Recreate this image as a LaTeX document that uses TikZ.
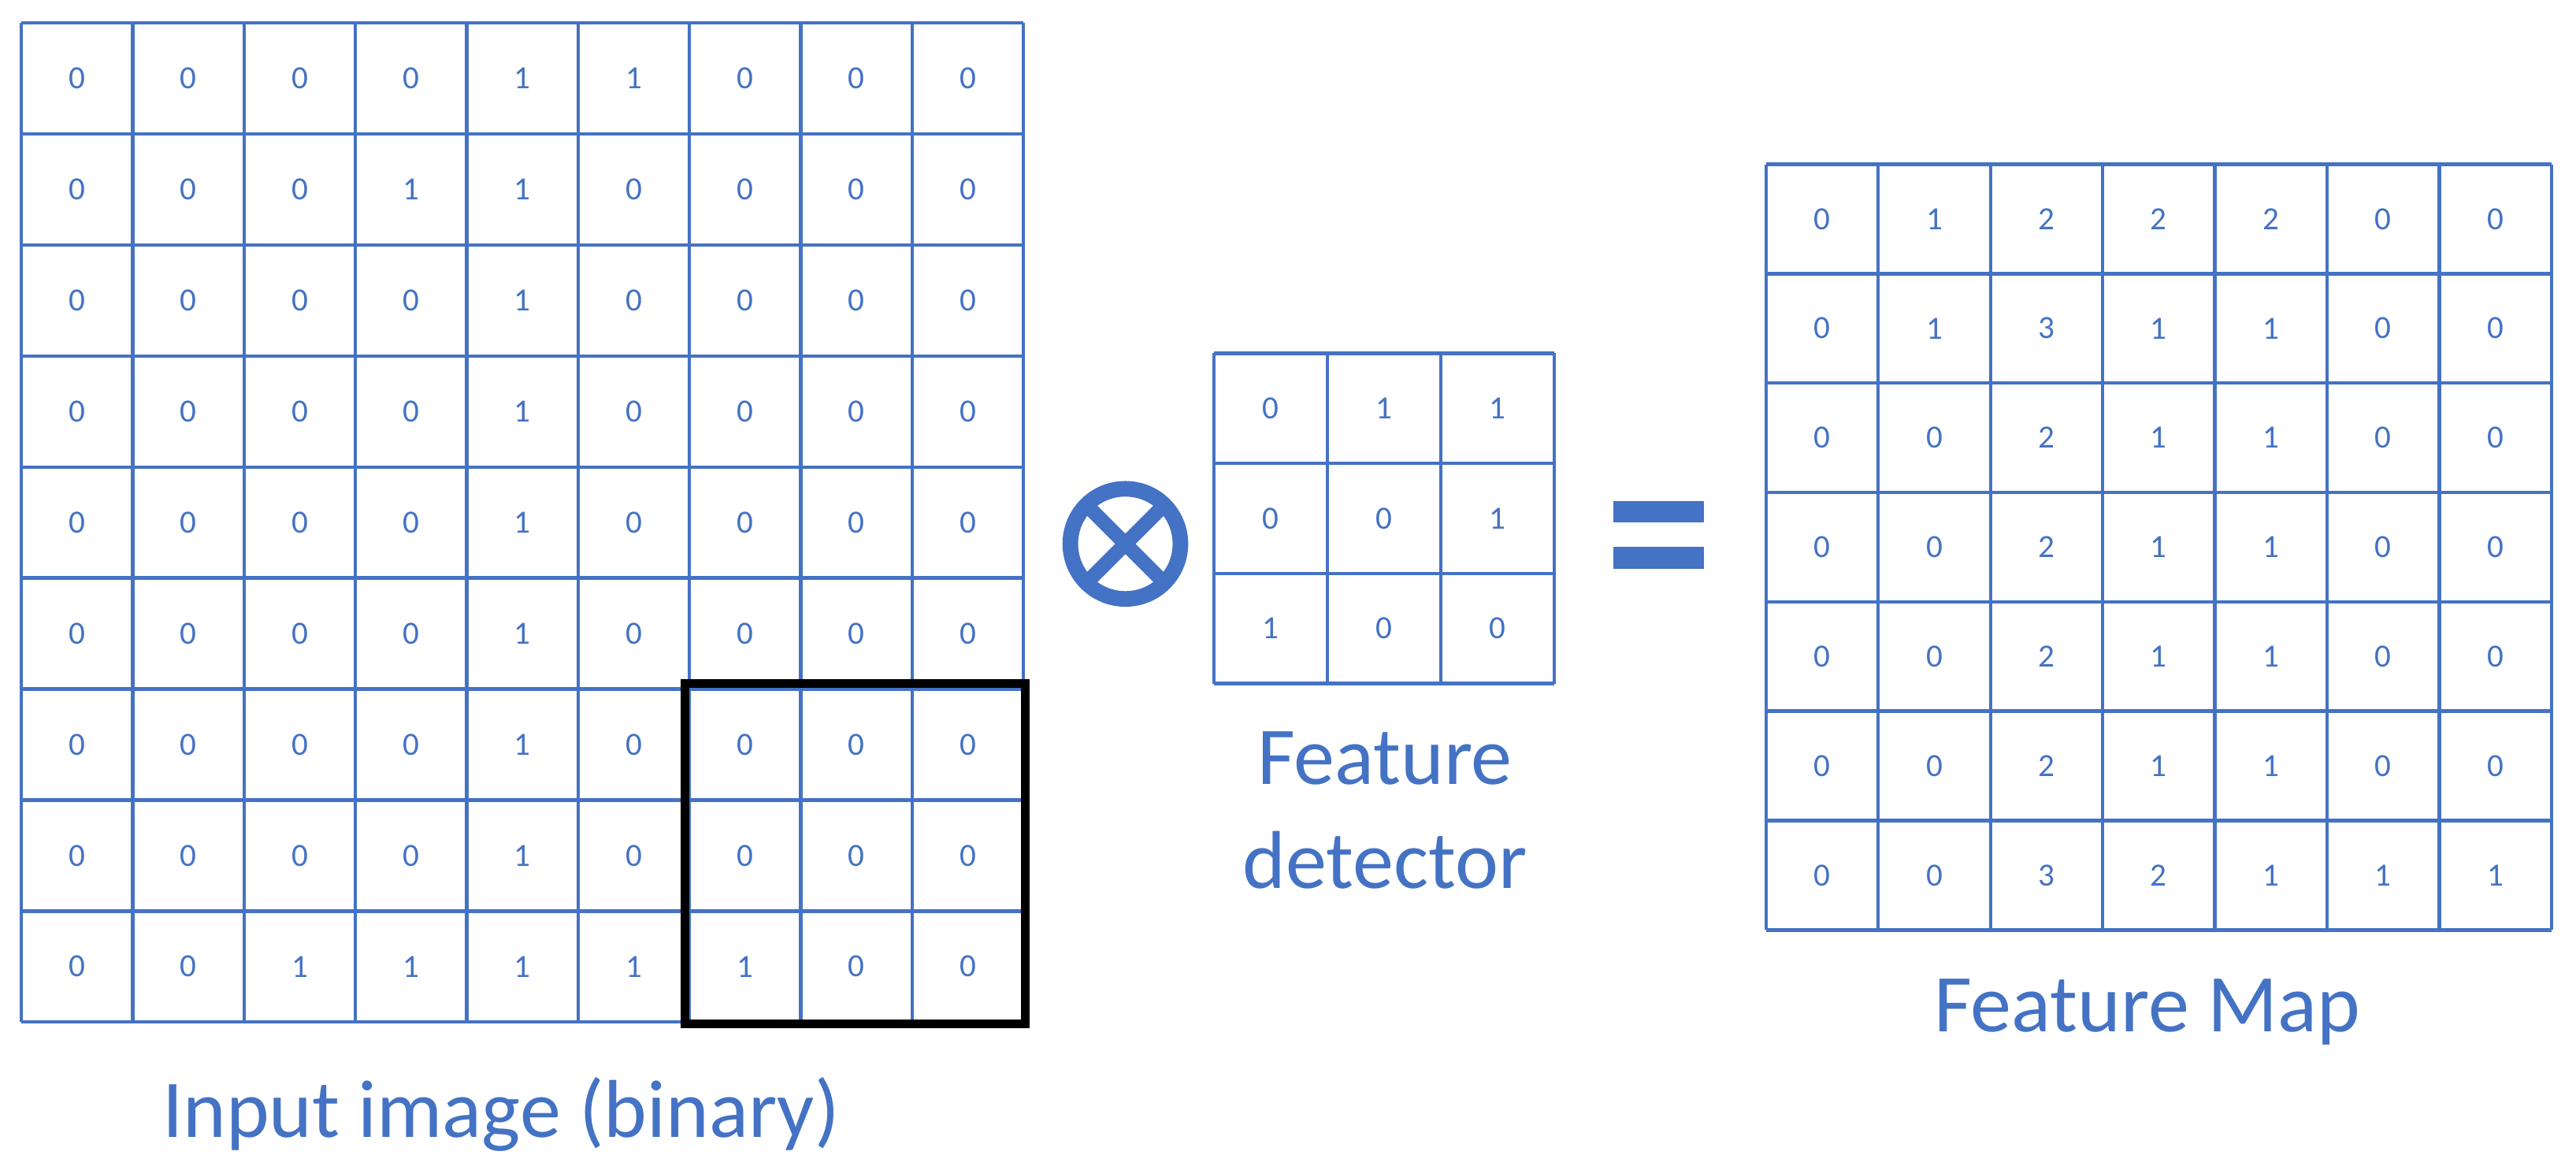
\documentclass[tikz,border=0pt]{standalone}
\usepackage{fontspec}
\setmainfont{Carlito}
\definecolor{blu}{HTML}{4472C4}
\begin{document}
\begin{tikzpicture}[x=0.01cm,y=-0.01cm,
  gridline/.style={draw=blu,line width=0.6pt},
  num/.style={text=blu,font=\fontsize{5.6}{6}\selectfont,inner sep=0pt},
  lbl/.style={text=blu,font=\fontsize{14.2}{18}\selectfont,align=center,inner sep=0pt}]
\useasboundingbox (0,0) rectangle (1568,712);
% input grid
\def\ix{13}\def\iy{14}\def\iw{67.78}\def\ih{67.56}
\foreach \k in {0,...,9}{
  \draw[gridline] (\ix+\k*\iw,\iy) -- (\ix+\k*\iw,\iy+9*\ih);
  \draw[gridline] (\ix,\iy+\k*\ih) -- (\ix+9*\iw,\iy+\k*\ih);}
\foreach \row [count=\r from 0] in {{0,0,0,0,1,1,0,0,0},{0,0,0,1,1,0,0,0,0},{0,0,0,0,1,0,0,0,0},{0,0,0,0,1,0,0,0,0},{0,0,0,0,1,0,0,0,0},{0,0,0,0,1,0,0,0,0},{0,0,0,0,1,0,0,0,0},{0,0,0,0,1,0,0,0,0},{0,0,1,1,1,1,1,0,0}}
  \foreach \v [count=\c from 0] in \row
    \node[num] (in-\r-\c) at (\ix+\c*\iw+0.5*\iw,\iy+\r*\ih+0.5*\ih) {\v};
\draw[black,line width=1.5pt] (417,416) rectangle (624,623);
% operator
\node[circle,draw=blu,line width=2.7pt,minimum size=0.67cm,inner sep=0pt] (op) at (685,331) {};
\begin{scope}
\clip (op.center) circle (0.3cm);
\draw[blu,line width=2.5pt] ([shift={(-30,-30)}]op.center) -- ([shift={(30,30)}]op.center)
  ([shift={(30,-30)}]op.center) -- ([shift={(-30,30)}]op.center);
\end{scope}
% feature detector
\def\fx{739}\def\fy{215}\def\fw{69}\def\fh{67}
\foreach \k in {0,...,3}{
  \draw[gridline] (\fx+\k*\fw,\fy) -- (\fx+\k*\fw,\fy+3*\fh);
  \draw[gridline] (\fx,\fy+\k*\fh) -- (\fx+3*\fw,\fy+\k*\fh);}
\foreach \row [count=\r from 0] in {{0,1,1},{0,0,1},{1,0,0}}
  \foreach \v [count=\c from 0] in \row
    \node[num] (fd-\r-\c) at (\fx+\c*\fw+0.5*\fw,\fy+\r*\fh+0.5*\fh) {\v};
\node[lbl] (fdl) at (843,493) {Feature\\detector};
% equals
\fill[blu] (982,305) rectangle (1037,318);
\fill[blu] (982,333) rectangle (1037,346);
% feature map
\def\mx{1075}\def\my{100}\def\mw{68.29}\def\mh{66.57}
\foreach \k in {0,...,7}{
  \draw[gridline] (\mx+\k*\mw,\my) -- (\mx+\k*\mw,\my+7*\mh);
  \draw[gridline] (\mx,\my+\k*\mh) -- (\mx+7*\mw,\my+\k*\mh);}
\foreach \row [count=\r from 0] in {{0,1,2,2,2,0,0},{0,1,3,1,1,0,0},{0,0,2,1,1,0,0},{0,0,2,1,1,0,0},{0,0,2,1,1,0,0},{0,0,2,1,1,0,0},{0,0,3,2,1,1,1}}
  \foreach \v [count=\c from 0] in \row
    \node[num] (fm-\r-\c) at (\mx+\c*\mw+0.5*\mw,\my+\r*\mh+0.5*\mh) {\v};
\node[lbl] (fml) at (1307,616) {Feature Map};
\node[lbl] (inl) at (305,678) {Input image (binary)};
\end{tikzpicture}
\end{document}
